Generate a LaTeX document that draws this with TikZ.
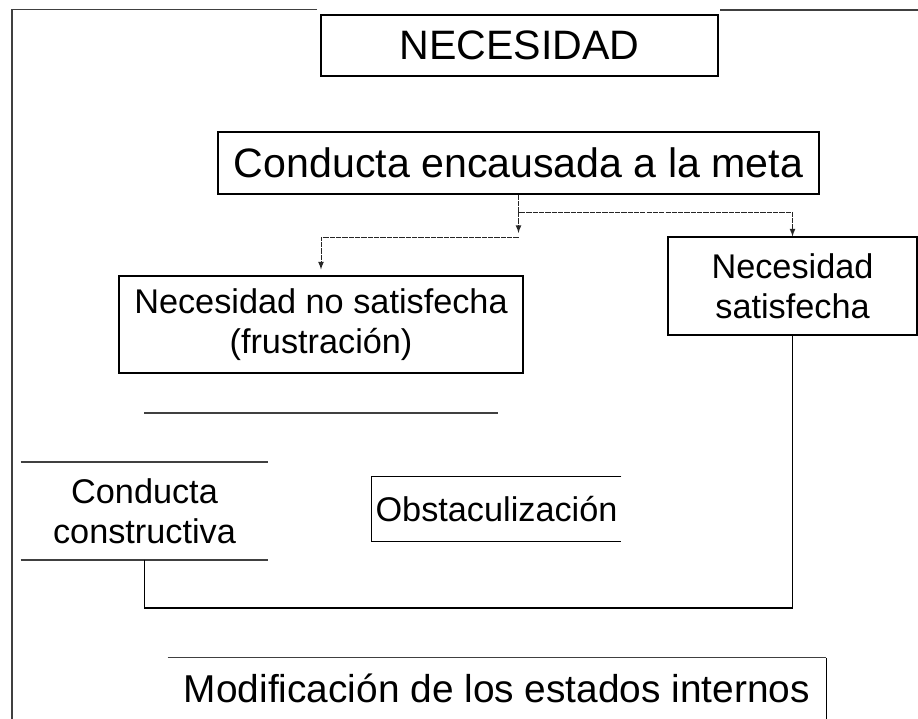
\documentclass[tikz,border=0pt]{standalone}
\usepackage{fontspec}
\setmainfont{Liberation Sans}
\tikzset{
  box/.style={draw, line width=0.6pt, align=center, inner sep=0pt},
  bigtext/.style={font=\fontsize{23.4}{27}\selectfont},
  midtext/.style={font=\fontsize{19.5}{22.7}\selectfont},
  flow/.style={black!85, line width=0.5pt, dash pattern=on 3pt off 0.6pt},
  edgeline/.style={black!75, line width=0.9pt}
}
\begin{document}
\begin{tikzpicture}
\useasboundingbox (0,0) rectangle (18.36,14.38);
\draw[edgeline] (6.34,14.19) -- (0.24,14.19) -- (0.24,0);
\draw[edgeline] (14.4,14.18) -- (18.36,14.18);
\node[box, bigtext, minimum width=7.94cm, minimum height=1.22cm] (nec) at (10.39,13.47) {NECESIDAD};
\node[box, bigtext, minimum width=12.02cm, minimum height=1.24cm] (meta) at (10.37,11.12) {Conducta encausada a la meta};
\node[box, midtext, minimum width=4.98cm, minimum height=1.96cm] (sat) at (15.85,8.66) {Necesidad\\satisfecha};
\node[box, midtext, minimum width=8.08cm, minimum height=1.94cm] (nosat) at (6.42,7.89) {Necesidad no satisfecha\\(frustración)};
\node[midtext, align=center, inner sep=0pt, minimum width=4.94cm, minimum height=1.94cm] (constr) at (2.89,4.16) {Conducta\\constructiva};
\node[midtext, inner sep=0pt, minimum width=4.98cm, minimum height=1.28cm] (obst) at (9.93,4.2) {Obstaculización};
\node[font=\fontsize{22.1}{26}\selectfont, inner sep=0pt, minimum width=13.16cm, minimum height=1.22cm] (modif) at (9.94,0.61) {Modificación de los estados internos};
\draw[edgeline] (2.88,6.12) -- (9.96,6.12);
\draw[edgeline] (constr.north west) -- (constr.north east);
\draw[edgeline] (constr.south west) -- (constr.south east);
\draw[line width=0.6pt] (obst.north east) -- (obst.north west) -- (obst.south west) -- (obst.south east);
\draw[edgeline] (modif.north west) -- (modif.north east);
\draw[line width=0.6pt] (modif.north east) -- (modif.south east);
\coordinate (fork) at (meta.south |- 0,10.14);
\coordinate (tip) at (meta.south |- 0,9.72);
\coordinate (drop) at (meta.south |- 0,9.64);
\coordinate (base) at (constr.south |- 0,2.22);
\draw[flow, -latex] (meta.south) -- (fork) -| (sat.north);
\draw[flow, -latex] (fork) -- (tip);
\draw[flow, -latex] (drop) -| ([yshift=0.12cm]nosat.north);
\draw[line width=0.6pt] (constr.south) -- (base) -| (sat.south);
\end{tikzpicture}
\end{document}
